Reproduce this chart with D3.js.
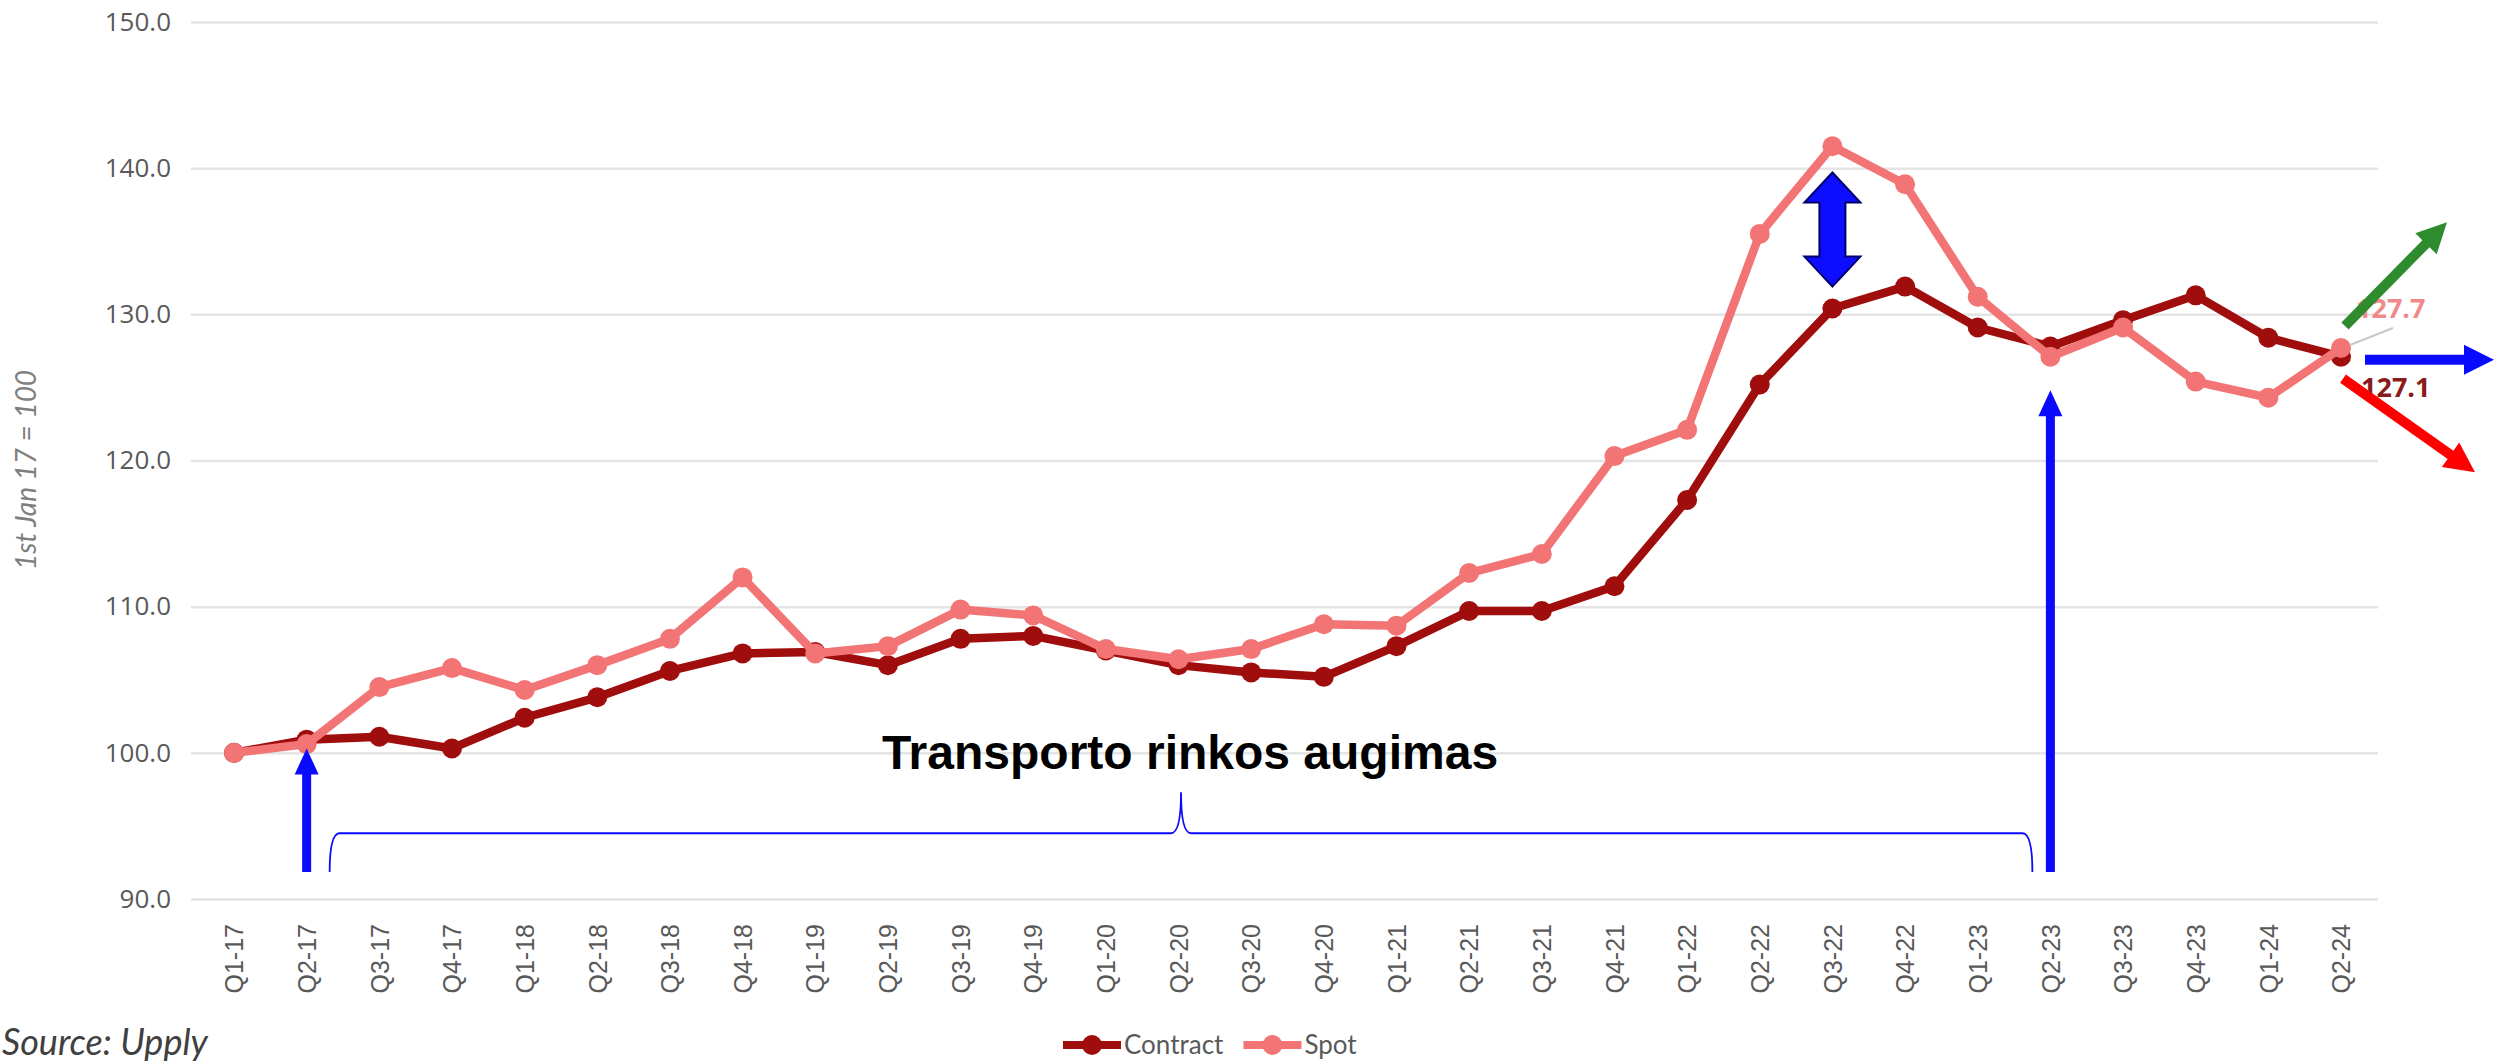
<!DOCTYPE html>
<html>
<head>
<meta charset="utf-8">
<script src="https://cdn.jsdelivr.net/npm/d3@7"></script>
<style>
  body { margin: 0; background: #fff; }
  svg { display: block; }
</style>
</head>
<body>
<svg id="chart" width="2494" height="1063"></svg>
<script>
// chart data
const quarters = ['Q1-17','Q2-17','Q3-17','Q4-17','Q1-18','Q2-18','Q3-18','Q4-18',
  'Q1-19','Q2-19','Q3-19','Q4-19','Q1-20','Q2-20','Q3-20','Q4-20',
  'Q1-21','Q2-21','Q3-21','Q4-21','Q1-22','Q2-22','Q3-22','Q4-22',
  'Q1-23','Q2-23','Q3-23','Q4-23','Q1-24','Q2-24']
const contract = [100.0, 100.9, 101.1, 100.3, 102.4, 103.8, 105.6, 106.8,
  106.9, 106.0, 107.8, 108.0, 107.0, 106.0, 105.5, 105.2,
  107.3, 109.7, 109.7, 111.4, 117.3, 125.2, 130.4, 131.9,
  129.1, 127.8, 129.6, 131.3, 128.4, 127.1]
const spot = [100.0, 100.6, 104.5, 105.8, 104.3, 106.0, 107.8, 112.0,
  106.8, 107.3, 109.8, 109.4, 107.1, 106.4, 107.1, 108.8,
  108.7, 112.3, 113.6, 120.3, 122.1, 135.5, 141.5, 138.9,
  131.2, 127.1, 129.1, 125.4, 124.3, 127.7]
const yTicks = [90, 100, 110, 120, 130, 140, 150]
const seriesNames = ['Contract', 'Spot']

const contractColor = '#a00d0d'
const spotColor = '#f27474'
const blue = '#0a0aff'

let svg = d3.select('#chart')

// scales
let x = d3.scalePoint().domain(quarters).range([234, 2341])
let y = d3.scaleLinear().domain([90, 150]).range([899, 22])

// gridlines + y labels
let yAxis = d3.axisLeft(y)
  .tickValues(yTicks)
  .tickFormat(d3.format('.1f'))
  .tickSize(-(2378 - 191))
  .tickPadding(20)
let gy = svg.append('g').attr('transform', 'translate(191,0)').call(yAxis)
gy.select('.domain').remove()
gy.selectAll('.tick line').attr('stroke', '#e4e4e4').attr('stroke-width', 2.5)
gy.selectAll('.tick text')
  .attr('fill', '#595959')
  .style('font-family', '"Open Sans", sans-serif')
  .style('font-size', '26px')

// x labels
let xAxis = d3.axisBottom(x).tickSize(0).tickPadding(0)
let gx = svg.append('g').attr('transform', 'translate(0,924)').call(xAxis)
gx.select('.domain').remove()
gx.selectAll('.tick text')
  .attr('transform', 'rotate(-90)')
  .attr('text-anchor', 'end')
  .attr('x', 0)
  .attr('y', 0)
  .attr('dy', '0.35em')
  .attr('fill', '#595959')
  .style('font-family', '"Liberation Sans", Arial, sans-serif')
  .style('font-size', '25px')

// y title
svg.append('text')
  .attr('transform', 'translate(36,470) rotate(-90)')
  .attr('text-anchor', 'middle')
  .attr('fill', '#7f7f7f')
  .style('font-family', 'Lato, sans-serif')
  .style('font-style', 'italic')
  .style('font-size', '28px')
  .text('1st Jan 17 = 100')

// lines
let line = d3.line().x((d, i) => x(quarters[i])).y(d => y(d))
let series = [
  {name: seriesNames[0], values: contract, color: contractColor},
  {name: seriesNames[1], values: spot, color: spotColor}
]
series.forEach(s => {
  svg.append('path')
    .datum(s.values)
    .attr('d', line)
    .attr('fill', 'none')
    .attr('stroke', s.color)
    .attr('stroke-width', 8.5)
    .attr('stroke-linejoin', 'round')
  svg.append('g').selectAll('circle')
    .data(s.values)
    .enter()
    .append('circle')
    .attr('cx', (d, i) => x(quarters[i]))
    .attr('cy', d => y(d))
    .attr('r', 10)
    .attr('fill', s.color)
})

// end labels
let last = quarters.length - 1
svg.append('line')
  .attr('x1', x(quarters[last]) + 9).attr('y1', y(spot[last]) - 3)
  .attr('x2', x(quarters[last]) + 52).attr('y2', y(spot[last]) - 20)
  .attr('stroke', '#c8c8c8').attr('stroke-width', 2)
svg.append('text')
  .attr('x', x(quarters[last]) + 15).attr('y', y(spot[last]) - 30)
  .attr('fill', '#f08a8a')
  .style('font-family', '"Open Sans", sans-serif')
  .style('font-weight', 'bold')
  .style('font-size', '27px')
  .text(spot[last].toFixed(1))
svg.append('text')
  .attr('x', x(quarters[last]) + 20).attr('y', y(contract[last]) + 40)
  .attr('fill', '#8b1a1a')
  .style('font-family', '"Open Sans", sans-serif')
  .style('font-weight', 'bold')
  .style('font-size', '27px')
  .text(contract[last].toFixed(1))

// legend
let legend = svg.append('g').attr('transform', 'translate(1063,1045)')
let lx = 0
series.forEach(s => {
  let g = legend.append('g').attr('transform', `translate(${lx},0)`)
  g.append('line').attr('x1', 0).attr('x2', 58).attr('y1', 0).attr('y2', 0)
    .attr('stroke', s.color).attr('stroke-width', 8)
  g.append('circle').attr('cx', 29).attr('cy', 0).attr('r', 10).attr('fill', s.color)
  let t = g.append('text').attr('x', 61).attr('y', 0).attr('dy', '0.35em')
    .attr('fill', '#595959')
    .style('font-family', 'Lato, sans-serif')
    .style('font-size', '26px')
    .text(s.name)
  lx += 61 + t.node().getComputedTextLength() + 20
})

// source
svg.append('text')
  .attr('x', 2).attr('y', 1055)
  .attr('fill', '#404040')
  .style('font-family', 'Lato, sans-serif')
  .style('font-style', 'italic')
  .style('font-size', '36px')
  .text('Source: Upply')

// ---- annotations ----
// polygon arrow from (x1,y1) to (x2,y2)
function arrow(x1, y1, x2, y2, w, hw, hl, color) {
  let dx = x2 - x1, dy = y2 - y1
  let len = Math.sqrt(dx * dx + dy * dy)
  let ux = dx / len, uy = dy / len
  let px = -uy, py = ux
  let bx = x2 - ux * hl, by = y2 - uy * hl
  let pts = [
    [x1 + px * w / 2, y1 + py * w / 2],
    [bx + px * w / 2, by + py * w / 2],
    [bx + px * hw / 2, by + py * hw / 2],
    [x2, y2],
    [bx - px * hw / 2, by - py * hw / 2],
    [bx - px * w / 2, by - py * w / 2],
    [x1 - px * w / 2, y1 - py * w / 2]
  ]
  svg.append('polygon').attr('points', pts.map(p => p.join(',')).join(' ')).attr('fill', color)
}

const arrowBase = 91.85
arrow(x('Q2-17'), y(arrowBase), x('Q2-17'), y(100.3), 9, 24, 26, blue)
arrow(x('Q2-23'), y(arrowBase), x('Q2-23'), y(124.8), 9, 24, 26, blue)

// brace
let bl = x('Q2-17') + 23, br = x('Q2-23') - 18, bm = (bl + br) / 2
let yb = y(arrowBase), yh = y(94.5), yt = y(97.3)
let r = 10
let brace = d3.path()
brace.moveTo(bl, yb)
brace.quadraticCurveTo(bl, yh, bl + r, yh)
brace.lineTo(bm - r, yh)
brace.quadraticCurveTo(bm, yh, bm, yt)
brace.quadraticCurveTo(bm, yh, bm + r, yh)
brace.lineTo(br - r, yh)
brace.quadraticCurveTo(br, yh, br, yb)
svg.append('path').attr('d', brace.toString())
  .attr('fill', 'none').attr('stroke', blue).attr('stroke-width', 1.8)

svg.append('text')
  .attr('x', bm + 9).attr('y', y(98.9))
  .attr('text-anchor', 'middle')
  .attr('fill', '#000')
  .style('font-family', '"Liberation Sans", Arial, sans-serif')
  .style('font-weight', 'bold')
  .style('font-size', '48px')
  .text('Transporto rinkos augimas')

// double arrow at the spot/contract gap
let dxm = x('Q3-22'), dTop = y(139.7), dBot = y(131.9)
let sw = 26, hw2 = 56, hl2 = 30
let dpts = [
  [dxm, dTop], [dxm + hw2 / 2, dTop + hl2], [dxm + sw / 2, dTop + hl2],
  [dxm + sw / 2, dBot - hl2], [dxm + hw2 / 2, dBot - hl2], [dxm, dBot],
  [dxm - hw2 / 2, dBot - hl2], [dxm - sw / 2, dBot - hl2],
  [dxm - sw / 2, dTop + hl2], [dxm - hw2 / 2, dTop + hl2]
]
svg.append('polygon').attr('points', dpts.map(p => p.join(',')).join(' '))
  .attr('fill', '#0d0dff').attr('stroke', '#00006b').attr('stroke-width', 2)

// outlook arrows from the last point
let ex = x(quarters[last])
arrow(ex + 4, y(129.2), ex + 106, y(136.3), 10, 30, 30, '#2e8b2e')
arrow(ex + 24, y(126.9), 2494, y(126.9), 10, 30, 30, blue)
arrow(ex + 2, y(125.6), ex + 134, y(119.2), 10, 30, 30, '#ff0000')
</script>
</body>
</html>
